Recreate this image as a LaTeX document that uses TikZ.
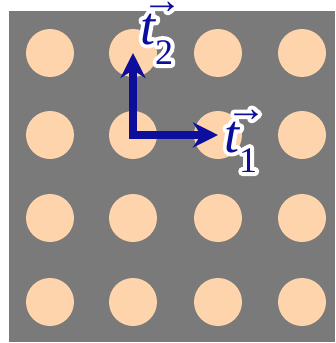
\documentclass[tikz,border=0pt]{standalone}
\usepackage{fontspec}
\setmainfont{Liberation Serif}
\usetikzlibrary{arrows.meta}
\definecolor{plate}{RGB}{122,122,122}
\definecolor{hole}{RGB}{253,212,172}
\definecolor{vecblue}{RGB}{14,14,156}
\newcommand{\tsym}[1]{\makebox[0pt][l]{\hspace{2pt}\raisebox{31pt}{\fontsize{40}{40}\selectfont →}}%
  {\fontsize{54}{54}\selectfont\itshape t}\raisebox{-20pt}{\fontsize{36}{36}\selectfont #1}}
\newcommand{\tvec}[1]{\makebox[0pt][l]{\special{pdf:literal direct 1 1 1 RG 8 w 1 J 1 j 2 Tr}\textcolor{white}{\tsym{#1}}\special{pdf:literal direct 0 Tr}}\tsym{#1}}

\begin{document}
\begin{tikzpicture}[x=1pt,y=-1pt,
  hole/.style={circle,fill=hole,minimum size=48pt,inner sep=0pt},
  tarr/.style={-{Stealth[length=25pt,width=25pt,inset=8pt]},line width=7.5pt,draw=vecblue,line cap=rect},
  tlab/.style={text=vecblue,inner sep=0pt}]
 \useasboundingbox (0,0) rectangle (335,343);
 % ---- plate ----
 \fill[white] (0,0) rectangle (335,343);
 \fill[plate] (9,11) rectangle (335,342);
 % ---- holes ----
 \foreach \i/\x in {1/50,2/133,3/218,4/302}
  \foreach \j/\y in {1/53,2/135,3/218,4/302}
   \node[hole] (c-\i-\j) at (\x,\y) {};
 % ---- lattice vectors ----
 \draw[tarr] (c-2-2.center) -- (c-3-2.center);
 \draw[tarr] (c-2-2.center) -- (c-2-1.center);
 \node[tlab,anchor=base west] (t1) at (224,152) {\tvec{1}};
 \node[tlab,anchor=base west] (t2) at (140,44) {\tvec{2}};
\end{tikzpicture}
\end{document}
